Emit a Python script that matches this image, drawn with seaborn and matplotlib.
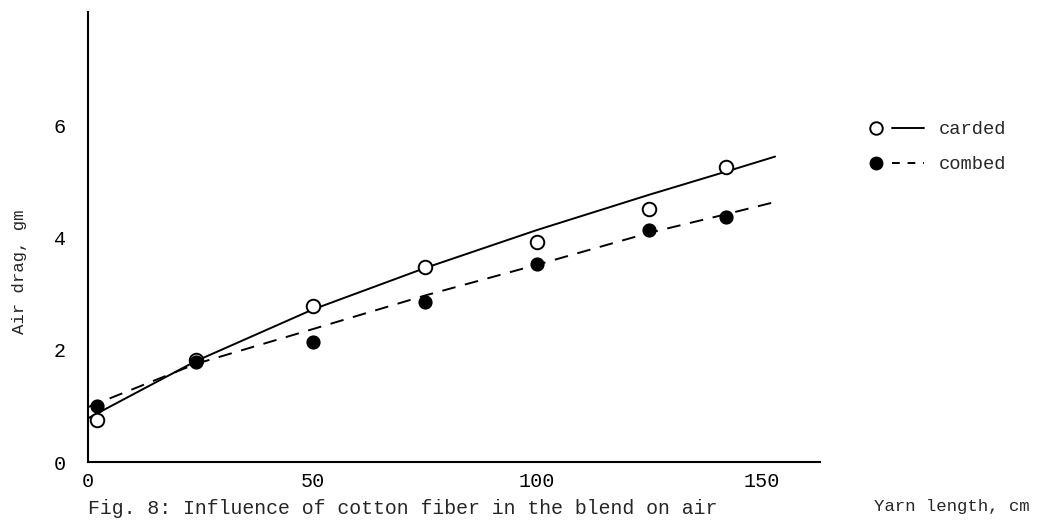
import numpy as np
import pandas as pd
import matplotlib
matplotlib.use("Agg")
import matplotlib.pyplot as plt
import seaborn as sns
from matplotlib.lines import Line2D
from matplotlib.legend_handler import HandlerTuple

# ---- data ----
point_x = [2, 24, 50, 75, 100, 125, 142]
carded_pts = [0.75, 1.82, 2.79, 3.48, 3.93, 4.52, 5.27]
combed_pts = [1.00, 1.78, 2.14, 2.86, 3.54, 4.14, 4.38]

curve_x = [0, 24, 50, 75, 100, 125, 142, 153]
carded_curve = [0.78, 1.80, 2.72, 3.46, 4.14, 4.77, 5.18, 5.45]
combed_curve = [0.98, 1.75, 2.37, 2.97, 3.52, 4.09, 4.42, 4.64]

x_ticks = [0, 50, 100, 150]
y_ticks = [0, 2, 4, 6]
series_labels = ["carded", "combed"]
caption = "Fig. 8: Influence of cotton fiber in the blend on air"
x_label = "Yarn length, cm"
y_label = "Air drag, gm"

sns.set_theme(style="white")
plt.rcParams["font.family"] = ["Liberation Mono", "DejaVu Sans Mono"]

fig = plt.figure(figsize=(10.37, 5.28), dpi=100)
ax = fig.add_axes([88 / 1037, 66 / 528, (820 - 88) / 1037, (462 - 12) / 528])

pts = pd.DataFrame({"x": point_x, "carded": carded_pts, "combed": combed_pts})
crv = pd.DataFrame({"x": curve_x, "carded": carded_curve, "combed": combed_curve})

sns.lineplot(data=crv, x="x", y="carded", ax=ax, color="black", lw=1.4,
             linestyle="-", sort=True)
sns.lineplot(data=crv, x="x", y="combed", ax=ax, color="black", lw=1.4,
             sort=True, dashes=False)
ax.lines[-1].set_dashes([7, 5])

sns.scatterplot(data=pts, x="x", y="carded", ax=ax, marker="o", s=95,
                facecolor="white", edgecolor="black", linewidth=1.4, zorder=5)
sns.scatterplot(data=pts, x="x", y="combed", ax=ax, marker="o", s=85,
                color="black", edgecolor="black", linewidth=1.0, zorder=5)

ax.set_xlim(0, 163)
ax.set_ylim(0, 8.03)
ax.set_xticks(x_ticks)
ax.set_yticks(y_ticks)
ax.set_xlabel("")
ax.set_ylabel("")
ax.tick_params(axis="both", direction="in", length=5, width=1.2, colors="black",
               labelsize=14.5)
ax.tick_params(axis="y", pad=16)
ax.tick_params(axis="x", pad=7)
for s in ["top", "right"]:
    ax.spines[s].set_visible(False)
for s in ["left", "bottom"]:
    ax.spines[s].set_color("black")
    ax.spines[s].set_linewidth(1.5)

# legend: marker followed by line
m1 = Line2D([], [], marker="o", ls="none", mfc="white", mec="black", ms=9, mew=1.4)
l1 = Line2D([], [], color="black", lw=1.4)
m2 = Line2D([], [], marker="o", ls="none", mfc="black", mec="black", ms=9)
l2 = Line2D([], [], color="black", lw=1.4, dashes=[4, 4])
fig.legend([(m1, l1), (m2, l2)], series_labels,
           handler_map={tuple: HandlerTuple(ndivide=2, pad=0.0)},
           loc="upper left", bbox_to_anchor=(851 / 1037, 1 - 112 / 528),
           frameon=False, fontsize=13.5, handlelength=3.4, handletextpad=0.8,
           labelspacing=0.95, borderpad=0)

fig.text(88 / 1037, 1 - 508 / 528, caption, fontsize=14.3, va="center", ha="left")
fig.text(1030 / 1037, 1 - 507 / 528, x_label, fontsize=12.5, va="center", ha="right")
fig.text(20 / 1037, 1 - 272 / 528, y_label, fontsize=12.5, va="center", ha="center",
         rotation=90)

fig.savefig("out.png", dpi=100)
